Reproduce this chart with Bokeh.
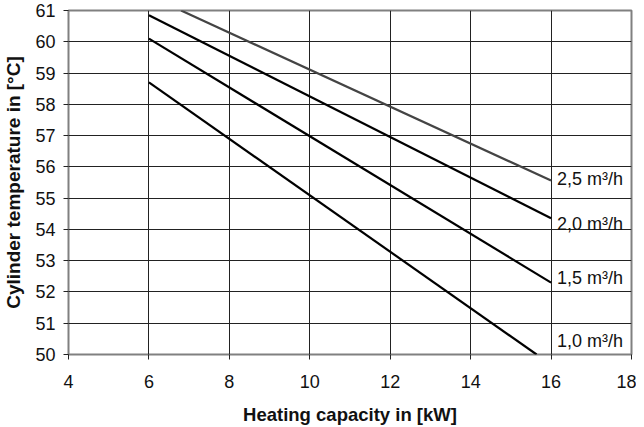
from bokeh.plotting import figure
from bokeh.models import Range1d, FixedTicker, ColumnDataSource
from bokeh.embed import file_html
from bokeh.resources import INLINE
from bokeh.core.properties import value

# Data
flow_labels = ["1,0 m³/h", "1,5 m³/h", "2,0 m³/h", "2,5 m³/h"]
x_10 = [6.0, 15.64]
y_10 = [58.7, 50.0]
x_15 = [6.0, 16.0]
y_15 = [60.1, 52.3]
x_20 = [6.0, 16.0]
y_20 = [60.85, 54.36]
x_25 = [6.8, 16.0]
y_25 = [61.0, 55.56]
label_x = [16.0, 16.0, 16.0, 16.0]
label_y = [50.42, 52.45, 54.18, 55.6]
x_ticks = [4, 6, 8, 10, 12, 14, 16, 18]
y_ticks = [50, 51, 52, 53, 54, 55, 56, 57, 58, 59, 60, 61]

FONT = "Liberation Sans"

p = figure(width=636, height=427, output_backend="svg", toolbar_location=None,
           x_range=Range1d(4, 18), y_range=Range1d(50, 61),
           min_border_left=66, min_border_right=5, min_border_top=10, min_border_bottom=72)
p.background_fill_color = "white"
p.border_fill_color = "white"
p.outline_line_color = "#808080"
p.outline_line_width = 2

p.xaxis.ticker = FixedTicker(ticks=x_ticks)
p.yaxis.ticker = FixedTicker(ticks=y_ticks)
for ax in (p.xaxis[0], p.yaxis[0]):
    ax.axis_line_color = None
    ax.major_tick_line_color = "#222222"
    ax.major_tick_out = 5
    ax.major_tick_in = 0
    ax.minor_tick_line_color = None
    ax.major_label_text_font = FONT
    ax.major_label_text_font_size = "18px"
    ax.major_label_text_color = "#111111"
    ax.axis_label_text_font = FONT
    ax.axis_label_text_font_style = "bold"
    ax.axis_label_text_font_size = "18.5px"
    ax.axis_label_text_color = "#111111"

p.yaxis.axis_label_text_font_size = "19px"
p.xaxis.axis_label = "Heating capacity in [kW]"
p.yaxis.axis_label = "Cylinder temperature in [°C]"
p.xaxis.major_label_standoff = 15
p.xaxis.axis_label_standoff = 13
p.yaxis.major_label_standoff = 8
p.yaxis.axis_label_standoff = 8

p.xgrid.grid_line_color = "#222222"
p.ygrid.grid_line_color = "#222222"
p.xgrid.grid_line_width = 1
p.ygrid.grid_line_width = 1

p.line(x_10, y_10, line_color="black", line_width=2.2)
p.line(x_15, y_15, line_color="black", line_width=2.2)
p.line(x_20, y_20, line_color="black", line_width=2.2)
p.line(x_25, y_25, line_color="#444444", line_width=2.2)

src = ColumnDataSource(dict(x=label_x, y=label_y, t=flow_labels))
p.text(x="x", y="y", text="t", source=src, x_offset=6, text_align="left",
       text_baseline="middle", text_font=value(FONT), text_font_size="18px",
       text_color="#111111")

open("out.html", "w").write(file_html(p, INLINE))
